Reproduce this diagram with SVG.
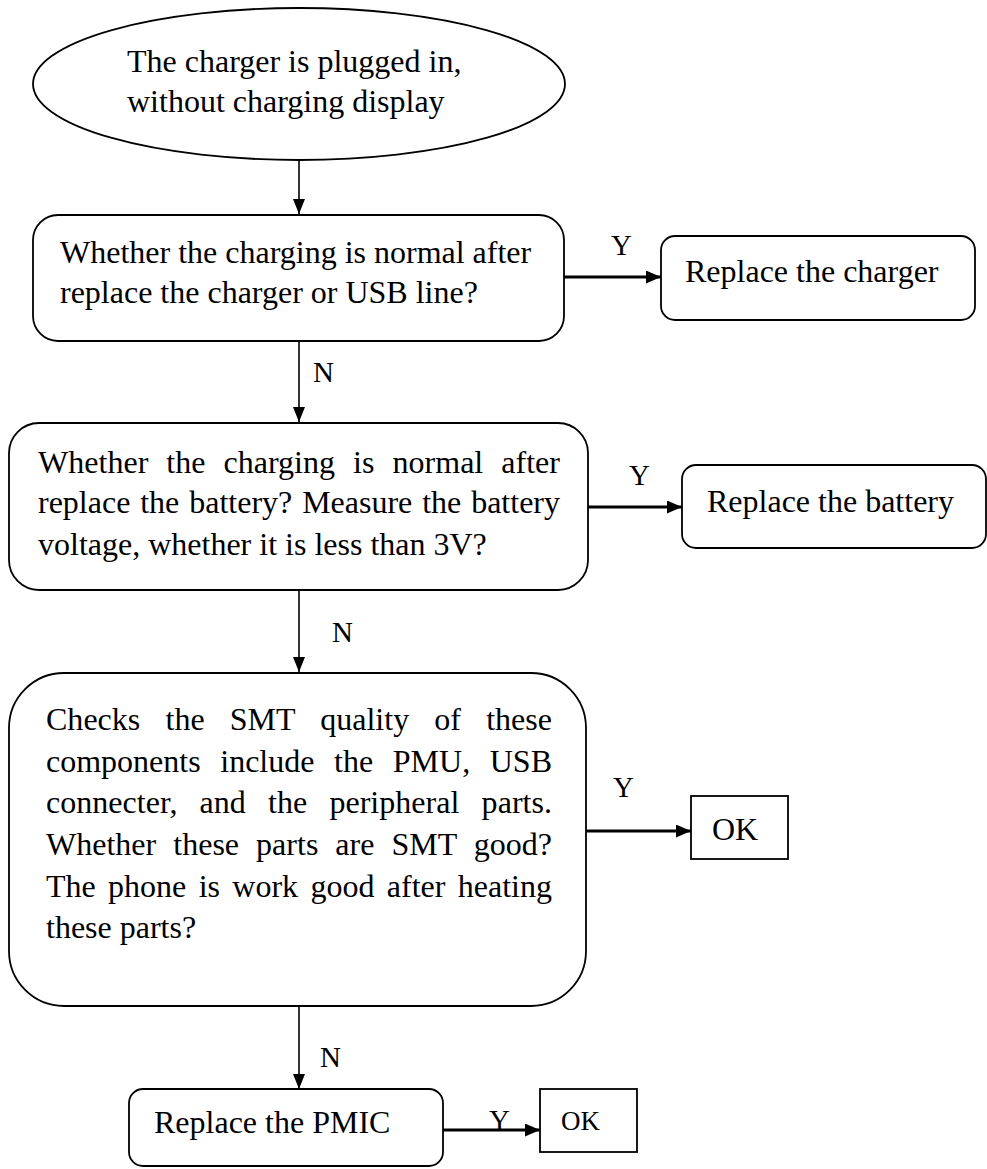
<svg xmlns="http://www.w3.org/2000/svg" width="987" height="1169" viewBox="0 0 987 1169">
<style>
.shape{fill:#fff;stroke:#000;stroke-width:1.8}
.t{font-family:"Liberation Serif","Times New Roman",serif;font-size:32px;fill:#000}
.lbl{font-family:"Liberation Serif","Times New Roman",serif;font-size:29px;fill:#000}
.v{stroke:#000;stroke-width:1.6;fill:none}
.h{stroke:#000;stroke-width:3;fill:none}
</style>
<defs>
<marker id="av" markerUnits="userSpaceOnUse" markerWidth="15" markerHeight="12" refX="15" refY="6" orient="auto">
<path d="M0,0 L15,6 L0,12 z" fill="#000"/>
</marker>
<marker id="ah" markerUnits="userSpaceOnUse" markerWidth="15" markerHeight="13" refX="15" refY="6.5" orient="auto">
<path d="M0,0 L15,6.5 L0,13 z" fill="#000"/>
</marker>
</defs>
<rect width="987" height="1169" fill="#fff"/>

<g id="connectors">
<line class="v" x1="299" y1="160" x2="299" y2="214" marker-end="url(#av)"/>
<line class="h" x1="564" y1="277" x2="661" y2="277" marker-end="url(#ah)"/>
<text class="lbl" x="611" y="255">Y</text>
<line class="v" x1="299" y1="341" x2="299" y2="422" marker-end="url(#av)"/>
<text class="lbl" x="313" y="382">N</text>
<line class="h" x1="588" y1="507" x2="682" y2="507" marker-end="url(#ah)"/>
<text class="lbl" x="629" y="485">Y</text>
<line class="v" x1="299" y1="590" x2="299" y2="672" marker-end="url(#av)"/>
<text class="lbl" x="332" y="642">N</text>
<line class="h" x1="586" y1="831" x2="691" y2="831" marker-end="url(#ah)"/>
<text class="lbl" x="613" y="797">Y</text>
<line class="v" x1="299" y1="1006" x2="299" y2="1089" marker-end="url(#av)"/>
<text class="lbl" x="320" y="1067">N</text>
<line class="h" x1="443" y1="1130" x2="540" y2="1130" marker-end="url(#ah)"/>
<text class="lbl" x="489" y="1130">Y</text>
</g>

<g id="start">
<ellipse class="shape" cx="299" cy="84" rx="266" ry="76"/>
<text class="t" x="127" y="72">The charger is plugged in,</text>
<text class="t" x="127" y="112">without charging display</text>
</g>

<g id="check-charger">
<rect class="shape" x="33" y="215" width="531" height="126" rx="25"/>
<text class="t" x="60" y="263">Whether the charging is normal after</text>
<text class="t" x="60" y="303">replace the charger or USB line?</text>
</g>

<g id="replace-charger">
<rect class="shape" x="661" y="236" width="314" height="84" rx="14"/>
<text class="t" x="685" y="282">Replace the charger</text>
</g>

<g id="check-battery">
<rect class="shape" x="9" y="423" width="579" height="167" rx="30"/>
<text class="t" x="38" y="473" word-spacing="10" textLength="522" lengthAdjust="spacing">Whether the charging is normal after</text>
<text class="t" x="38" y="513" word-spacing="1.9" textLength="522" lengthAdjust="spacing">replace the battery? Measure the battery</text>
<text class="t" x="38" y="555">voltage, whether it is less than 3V?</text>
</g>

<g id="replace-battery">
<rect class="shape" x="682" y="465" width="304" height="83" rx="14"/>
<text class="t" x="707" y="512">Replace the battery</text>
</g>

<g id="check-smt">
<rect class="shape" x="9" y="673" width="577" height="333" rx="55"/>
<text class="t" x="46" y="730" word-spacing="17.1" textLength="506" lengthAdjust="spacing">Checks the SMT quality of these</text>
<text class="t" x="46" y="772" word-spacing="11.6" textLength="506" lengthAdjust="spacing">components include the PMU, USB</text>
<text class="t" x="46" y="813" word-spacing="14.1" textLength="506" lengthAdjust="spacing">connecter, and the peripheral parts.</text>
<text class="t" x="46" y="855" word-spacing="9" textLength="506" lengthAdjust="spacing">Whether these parts are SMT good?</text>
<text class="t" x="46" y="897" word-spacing="4.3" textLength="506" lengthAdjust="spacing">The phone is work good after heating</text>
<text class="t" x="46" y="938">these parts?</text>
</g>

<g id="ok-1">
<rect class="shape" x="691" y="796" width="97" height="63"/>
<text class="t" x="712" y="840">OK</text>
</g>

<g id="replace-pmic">
<rect class="shape" x="129" y="1089" width="314" height="77" rx="14"/>
<text class="t" x="154" y="1133">Replace the PMIC</text>
</g>

<g id="ok-2">
<rect class="shape" x="540" y="1089" width="97" height="63"/>
<text class="t" x="561" y="1130" style="font-size:27px">OK</text>
</g>
</svg>
